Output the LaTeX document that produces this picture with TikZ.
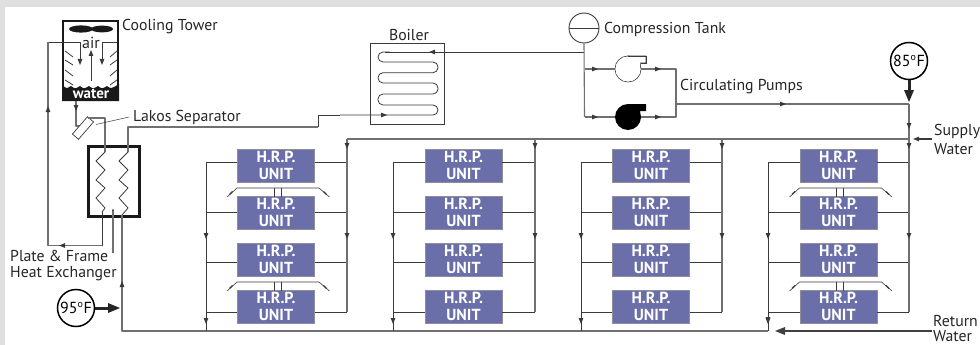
\documentclass[tikz,border=0pt]{standalone}
\usepackage{fontspec}
\setmainfont{PT Sans}
\definecolor{unitblue}{HTML}{6A6EA9}
\definecolor{unitedge}{HTML}{8E8E9A}
\definecolor{pipedark}{HTML}{3A3A3A}
\definecolor{pipegray}{HTML}{707070}
\definecolor{pagegray}{HTML}{DFDFDF}
\newcommand{\tipat}[3]{\fill[pipedark,shift={(#1,#2)},rotate=-#3] (3,0)--(-3,2.4)--(-3,-2.4)--cycle;}
\tikzset{
  x=1pt,y=-1pt,
  pipe/.style={draw=pipedark,line width=0.8pt,line join=round},
  pipeg/.style={draw=pipegray,line width=1.1pt,line join=round},
  thin pipe/.style={draw=pipedark,line width=0.5pt},
  hrp/.style={draw=unitedge,line width=0.8pt,fill=unitblue,minimum width=77pt,minimum height=33pt,inner sep=0pt,text=white,font=\fontsize{16}{17.5}\selectfont\bfseries,align=center},
  lab/.style={anchor=west,inner sep=0pt,text=black!85,font=\fontsize{15.8}{18}\selectfont},
  temp/.style={draw=black,line width=1.5pt,fill=white,circle,minimum size=37pt,inner sep=0pt,font=\fontsize{16}{18}\selectfont},
  fatarrow/.style={draw=black!85,line width=3pt},
}
\begin{document}
\begin{tikzpicture}
\useasboundingbox (0,0) rectangle (980,345);
\clip (0,0) rectangle (980,345);
\fill[pagegray] (0,0) rectangle (980,345);
\fill[white] (5,7) rectangle (980,345);

% cooling tower
\fill[black!90] (62,101) -- (62,84) .. controls (66,89) .. (71,86) .. controls (75,89) .. (80,86) .. controls (84,89) .. (89,86) .. controls (93,89) .. (98,86) .. controls (102,89) .. (107,86) .. controls (111,89) .. (119,84) -- (119,101) -- cycle;
\node[draw=black!90,line width=2.2pt,minimum width=55pt,minimum height=79pt,inner sep=0pt] (tower) at (90.5,60.5) {};
\fill[black!90] (81,29) ellipse [x radius=12,y radius=3.6];
\fill[black!90] (102,29) ellipse [x radius=11,y radius=3.4];
\node[inner sep=0pt,font=\fontsize{16}{16}\selectfont,text=black!85] (airlabel) at (91,42.5) {air};
\node[inner sep=0pt,font=\fontsize{15}{16}\selectfont\bfseries,text=white] (waterlabel) at (91,94) {water};
\foreach \ya/\yb in {51/57,60/65,70/76,80/85}{
  \draw[pipe] (65,\ya) -- (73,\yb);
  \draw[pipe] (117,\ya) -- (110,\yb);
}
\coordinate (tl) at (80,42);
\coordinate (tr) at (102,42);
\draw[pipe] (48,42) -- (tl) -- (80,63);
\tipat{80}{62}{90}
\draw[pipe] (117,42) -- (tr) -- (102,63);
\tipat{102}{62}{90}
\draw[pipe] (91,81) -- (91,53);
\tipat{91}{53}{270}
\node[lab] (ct) at (122,27) {Cooling Tower};

% return from exchanger to the tower
\node[draw=black!90,line width=2.4pt,minimum width=51pt,minimum height=70pt,inner sep=0pt,fill=white] (hx) at (114,181.5) {};
\coordinate (hxa) at (102,245.5);
\draw[pipeg] (48,42) -- (48,245.5) -- (hxa);
\draw[pipe] (hxa) -- (102,212);
\tipat{62}{245.5}{180}
\tipat{48}{109}{270}

% tower to separator
\draw[pipeg] (tower.south -| 76,101) -- (76,126) -- (82,126);
\tipat{76}{108}{90}
\node[draw=pipedark,line width=0.7pt,fill=white,minimum width=23pt,minimum height=8pt,inner sep=0pt,rotate=49] (lakos) at (83,128) {};
\draw[pipeg] (88,118) -- (105,118) -- (105,152);
\coordinate (lk) at (96,124.5);
\draw[thin pipe] (lk) -- (129,117);
\node[lab] (ls) at (133,117) {Lakos Separator};

% exchanger zigzags
\draw[pipe] (105,152) -- (96,161) -- (105,170) -- (96,180) -- (105,188) -- (96,198) -- (105,208) -- (102,212);
\draw[pipe] (128,152) -- (119,161) -- (128,170) -- (119,180) -- (128,188) -- (119,198) -- (128,208) -- (122,215);
\draw[pipeg] (113,210) -- (113,253);
\fill[pipedark] (113,210) circle (1);
\node[lab] (pf) at (10,256) {Plate \& Frame};
\node[lab] (he) at (10,274) {Heat Exchanger};

% return main
\coordinate (retend) at (768,331);
\draw[pipeg] (122,215) -- (122,331) -- (retend);
\tipat{122}{284}{270}
\node[temp] (t95) at (76,308) {95\textsuperscript{\fontsize{10}{10}\selectfont o}F};
\coordinate (t95end) at (120,308);
\draw[fatarrow] (t95) -- (112,308);
\fill[black!85] (120,308) -- (108,303) -- (108,313) -- cycle;

% to the boiler
\draw[pipeg] (128,152) -- (128,127) -- (318,127);
\draw[pipe] (318,127) -- (318,115) -- (340,115);

% boiler
\node[draw=pipedark,line width=0.9pt,minimum width=74pt,minimum height=81pt,inner sep=0pt] (boiler) at (407,83.5) {};
\node[inner sep=0pt,font=\fontsize{15.8}{18}\selectfont,text=black!85] (bl) at (409,35) {Boiler};
\draw[pipe,rounded corners=5] (340,115) -- (438,115) -- (438,105) -- (378,105) -- (378,94) -- (438,94) -- (438,83) -- (378,83) -- (378,72.7) -- (438,72.7) -- (438,62) -- (378,62) -- (378,52) -- (390,52);
\node[draw=pipedark,line width=0.9pt,circle,minimum size=30pt,inner sep=0pt] (tank) at (584,28) {};
\draw[pipe] (tank.west) -- (tank.east);
\draw[pipe] (385,52) -- (584,52);
\tipat{384}{115}{0}
\tipat{432}{52}{180}
\node[lab] (ctk) at (604,29) {Compression Tank};

% pumps
\draw[pipeg] (tank.south) -- (584.5,117);
\node[draw=pipedark,line width=0.7pt,circle,minimum size=26pt,inner sep=0pt] (p1) at (628,69) {};
\draw[pipedark,line width=0.7pt,fill=white] (628,56) -- (646,56) -- (646,63) -- (640,63) -- (640.5,68) -- (628,68) -- cycle;
\draw[draw=none,fill=white] (629,57) rectangle (640,68);
\node[draw=none,fill=white,circle,minimum size=25pt,inner sep=0pt] at (628,69) {};
\draw[draw=pipedark,line width=0.7pt,fill=none] (628,56) -- (646,56) -- (646,63) -- (640.5,63);
\fill[black] (628,104) -- (646,104) -- (646,111) -- (640,111) -- (640,117) -- (628,117) -- cycle;
\node[fill=black,circle,minimum size=26pt,inner sep=0pt] (p2) at (628,117) {};
\draw[pipeg] (584.5,69) -- (p1.west);
\draw[pipeg] (584.5,117) -- (p2.west);
\draw[pipeg] (p1.east) -- (676,69) -- (676,117) -- (p2.east);
\tipat{595}{69}{0}
\tipat{595}{117}{0}
\tipat{658}{69}{0}
\tipat{658}{117}{0}
\node[lab] (cp) at (680,87) {Circulating Pumps};
\coordinate (junction) at (909,104);
\draw[pipeg] (676,104) -- (junction);
\tipat{783}{104}{0}

% supply main
\draw[pipeg,line width=1.3pt] (347,139) -- (909,139);

% units
\foreach \c/\xm/\bl/\br in {1/276/206/347,2/463.5/393/535,3/651/581/722,4/838.5/768/909}{
  \foreach \r/\cy/\top in {1/165.5/162,2/212.5/212,3/259.5/262,4/306.5/312}{
    \node[hrp] (u\c\r) at (\xm,\cy) {H.R.P.\\UNIT};
    \draw[pipe] (u\c\r.west |- 0,\top) -- (\bl,\top);
    \draw[pipe] (u\c\r.east |- 0,\top) -- (\br,\top);
  }
  \draw[pipe] (\bl,162) -- (\bl,331);
  \draw[pipeg] (\br,139) -- (\br,312);
  \tipat{\bl}{236}{90}
  \tipat{\bl}{321}{90}
  \tipat{\br}{146}{90}
  \tipat{\br}{236}{90}
}
\draw[pipeg] (909,104) -- (909,139);
\tipat{909}{126}{90}

% bridges
\foreach \xm in {276,838.5}{
  \foreach \yt in {188,282}{
    \pgfmathsetmacro{\xa}{\xm-49}\pgfmathsetmacro{\xb}{\xm-39}
    \pgfmathsetmacro{\xc}{\xm+43}\pgfmathsetmacro{\xd}{\xm+53.5}
    \pgfmathsetmacro{\xe}{\xm-2}\pgfmathsetmacro{\xf}{\xm+5}
    \pgfmathsetmacro{\yb}{\yt+9}\pgfmathsetmacro{\ym}{\yt+5}
    \pgfmathsetmacro{\xg}{\xm-45}\pgfmathsetmacro{\xh}{\xm+49}
    \draw[thin pipe,line width=0.6pt] (\xa,\yb) -- (\xb,\yt) -- (\xc,\yt) -- (\xd,\yb);
    \draw[pipedark,line width=1.2pt] (\xg-1.5,\ym+1.5) -- (\xg+1.5,\ym-1.5);
    \draw[pipedark,line width=1.2pt] (\xh-1.5,\ym-1.5) -- (\xh+1.5,\ym+1.5);
    \draw[thin pipe,line width=0.6pt] (\xe,\yt) -- (\xe,\yb);
    \draw[thin pipe,line width=0.6pt] (\xf,\yt) -- (\xf,\yb);
  }
}

% right side
\node[temp] (t85) at (909,61) {85\textsuperscript{\fontsize{10}{10}\selectfont o}F};
\draw[fatarrow] (t85) -- (909,95);
\fill[black!85] (909,102) -- (904,90) -- (914,90) -- cycle;
\coordinate (supplytip) at (912,139);
\draw[pipe,line width=1.1pt] (932,139) -- (918,139);
\tipat{916}{139}{180}
\node[lab] (sp) at (934,131) {Supply};
\node[lab] (wa) at (934,149) {Water};
\coordinate (rettip) at (775,331);
\draw[draw=black!75,line width=1.6pt] (932,331) -- (782,331);
\fill[black!75] (775,331) -- (785,327) -- (785,335) -- cycle;
\tipat{768}{320}{90}
\node[lab] (rt) at (933,321) {Return};
\node[lab] (wr) at (933,336.5) {Water};
\end{tikzpicture}
\end{document}
